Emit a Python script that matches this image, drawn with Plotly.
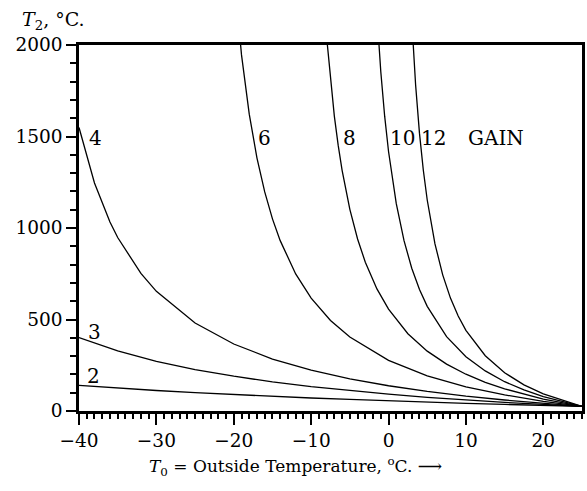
import plotly.graph_objects as go

# Gain curves: outside temperature T0 (°C) vs required T2 (°C)
t0_g2 = [-40, -35, -30, -25, -20, -15, -10, -5, 0, 5, 10, 15, 20, 25]
t2_g2 = [140, 125, 112, 100, 89, 80, 71, 63, 55, 48, 42, 36, 30, 25]

t0_g3 = [-40, -35, -30, -25, -20, -15, -10, -5, 0, 5, 10, 15, 20, 25]
t2_g3 = [401, 328, 271, 226, 190, 159, 133, 111, 92, 75, 60, 47, 36, 25]

t0_g4 = [-40, -38, -36, -35, -32, -30, -25, -20, -15, -10, -5, 0, 5, 10, 15, 20, 25]
t2_g4 = [1549, 1246, 1033, 948, 752, 654, 481, 366, 284, 223, 176, 138, 107, 81, 60, 41, 25]

t0_g6 = [-20, -19, -18, -17, -16, -15, -14, -12, -10, -7.5, -5, 0, 5, 10, 15, 20, 25]
t2_g6 = [2408, 1946, 1622, 1382, 1197, 1050, 931, 749, 617, 495, 404, 277, 192, 132, 88, 53, 25]

t0_g8 = [-8, -7.5, -7, -6.5, -6, -5, -4, -3, -1.5, 0, 2.5, 5, 7.5, 10, 12.5, 15, 20, 25]
t2_g8 = [2042, 1803, 1610, 1450, 1315, 1102, 940, 813, 667, 557, 422, 327, 256, 201, 157, 121, 65, 25]

t0_g10 = [-1.5, -1, -0.5, 0, 1, 2, 3, 4, 5, 7.5, 10, 12.5, 15, 17.5, 20, 25]
t2_g10 = [2170, 1854, 1611, 1418, 1133, 931, 780, 664, 572, 406, 297, 219, 160, 115, 79, 25]

t0_g12 = [3, 3.5, 4, 4.5, 5, 6, 7, 8, 9, 10, 12.5, 15, 17.5, 20, 25]
t2_g12 = [2138, 1781, 1517, 1314, 1153, 913, 744, 617, 519, 441, 302, 209, 143, 94, 25]

# Curve labels (text, T0, T2)
label_text = ["2", "3", "4", "6", "8", "10", "12", "GAIN"]
label_t0 = [-38.1, -38.0, -37.9, -16.0, -5.05, 1.8, 5.75, 13.85]
label_t2 = [191, 433, 1490, 1490, 1490, 1490, 1490, 1490]

x_tick_vals = [-40, -30, -20, -10, 0, 10, 20]
x_tick_text = ["\u221240", "\u221230", "\u221220", "\u221210", "0", "10", "20"]
y_tick_vals = [0, 500, 1000, 1500, 2000]

FONT = "DejaVu Serif"

fig = go.Figure()
curves = [(t0_g2, t2_g2), (t0_g3, t2_g3), (t0_g4, t2_g4), (t0_g6, t2_g6),
          (t0_g8, t2_g8), (t0_g10, t2_g10), (t0_g12, t2_g12)]
for xs, ys in curves:
    fig.add_trace(go.Scatter(x=xs, y=ys, mode="lines",
                             line=dict(color="black", width=1.3),
                             showlegend=False, hoverinfo="skip"))

for t, x, y in zip(label_text, label_t0, label_t2):
    fig.add_annotation(x=x, y=y, text=t, showarrow=False, xref="x", yref="y",
                       xanchor="center", yanchor="middle",
                       font=dict(family=FONT, size=20, color="black"))

fig.add_annotation(xref="paper", yref="paper", x=-0.05, y=1.066,
                   text="<i>T</i><sub>2</sub>, \u00b0C.", showarrow=False,
                   xanchor="center", yanchor="middle",
                   font=dict(family=FONT, size=19, color="black"))
fig.add_annotation(xref="paper", yref="paper", x=0.43, y=-0.152,
                   text="<i>T</i><sub>0</sub> = Outside Temperature, <sup>o</sup>C. \u27f6",
                   showarrow=False, xanchor="center", yanchor="middle",
                   font=dict(family=FONT, size=17, color="black"))

fig.update_xaxes(range=[-40, 25], tickvals=x_tick_vals, ticktext=x_tick_text,
                 ticks="outside", ticklen=11, tickwidth=2, tickcolor="black",
                 showline=True, linewidth=2.5, linecolor="black", mirror=True,
                 showgrid=False, zeroline=False,
                 tickfont=dict(family=FONT, size=18.5, color="black"),
                 minor=dict(dtick=1, tick0=0, ticks="outside", ticklen=5,
                            tickwidth=1.5, tickcolor="black", showgrid=False))
fig.update_yaxes(range=[0, 2000], tickvals=y_tick_vals,
                 ticks="outside", ticklen=10, tickwidth=2, tickcolor="black",
                 showline=True, linewidth=2.5, linecolor="black", mirror=True,
                 showgrid=False, zeroline=False,
                 tickfont=dict(family=FONT, size=18.5, color="black"),
                 minor=dict(dtick=100, tick0=0, ticks="outside", ticklen=6,
                            tickwidth=1.5, tickcolor="black", showgrid=False))

fig.update_layout(width=587, height=491,
                  margin=dict(l=79, r=2, t=45, b=80),
                  paper_bgcolor="white", plot_bgcolor="white",
                  font=dict(family=FONT, color="black"))

fig.write_html("out.html", config={"displayModeBar": False},
               post_script="document.body.style.margin='0';document.body.style.overflow='hidden';")
